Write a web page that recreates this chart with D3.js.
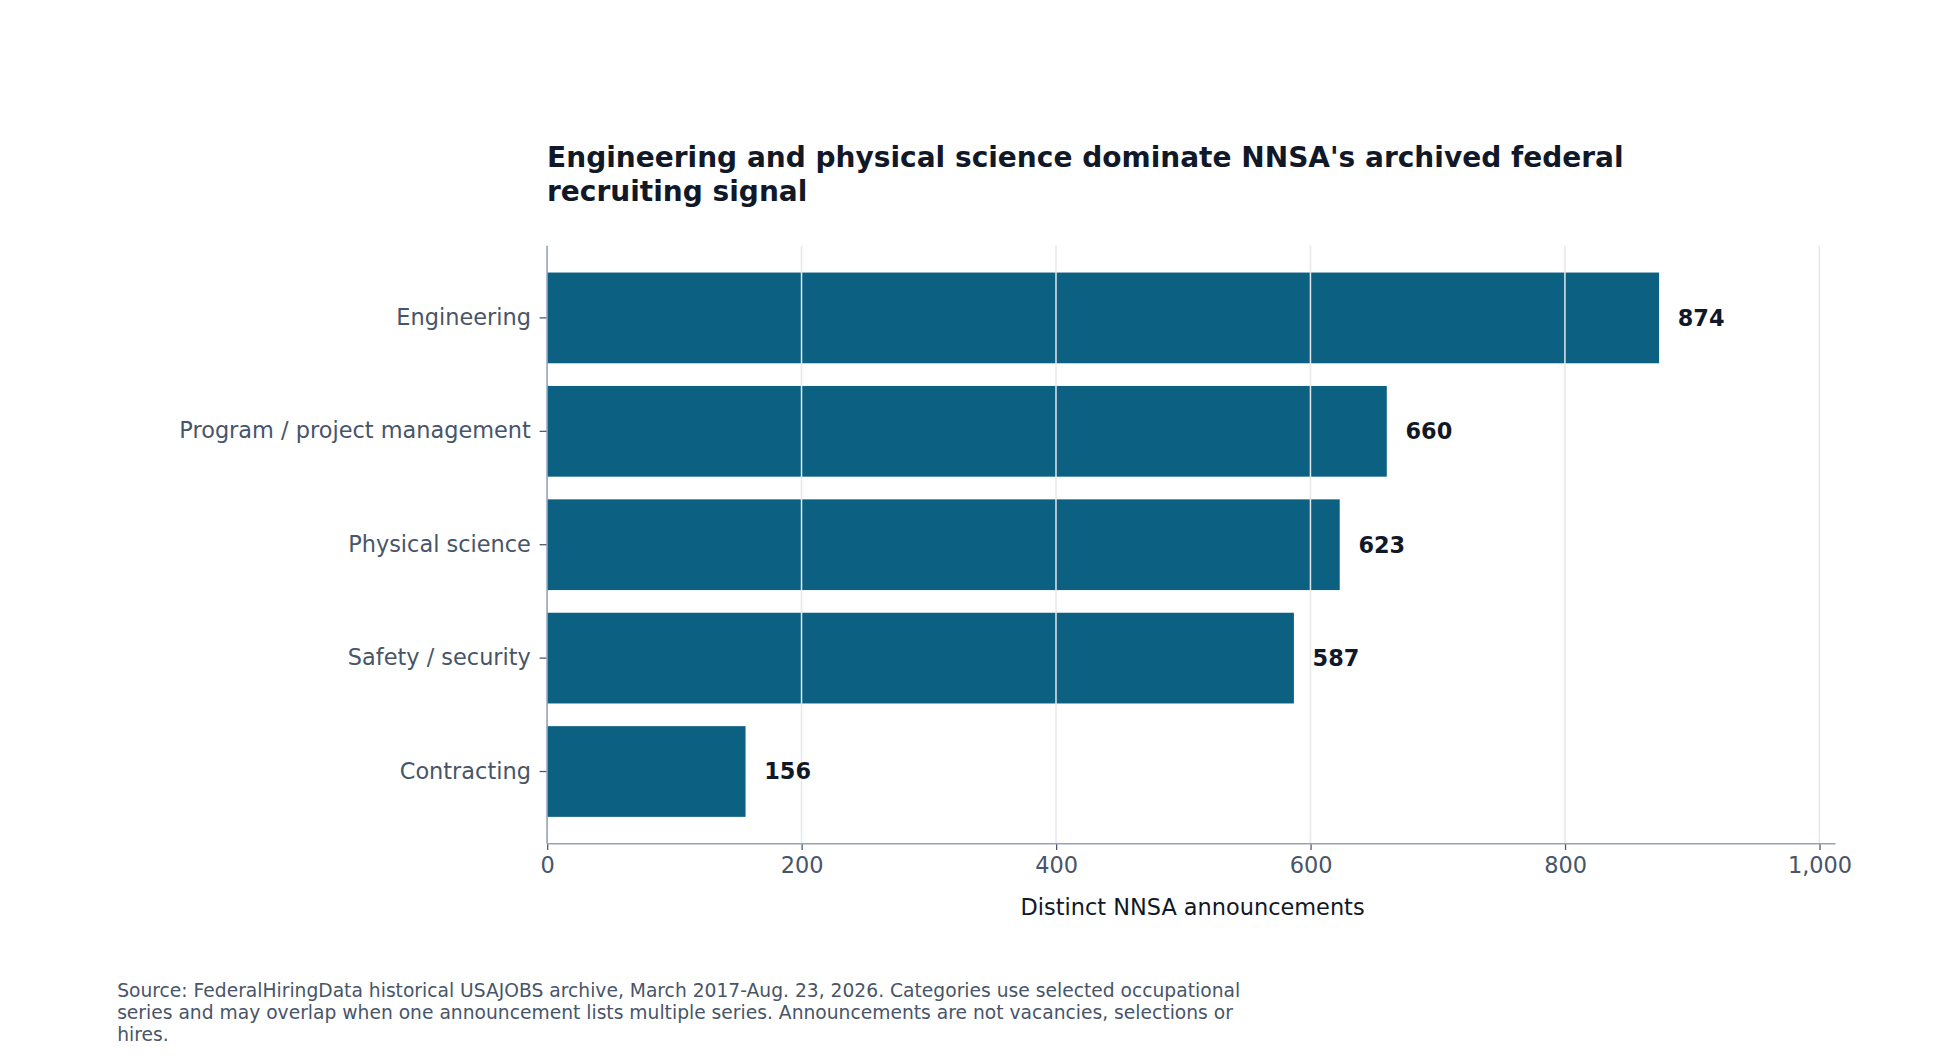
<!DOCTYPE html>
<html><head><meta charset="utf-8">
<script src="https://cdn.jsdelivr.net/npm/d3@7"></script>
<style>body{margin:0;background:#fff;font-family:"DejaVu Sans",sans-serif}</style>
</head><body><div id="chart"></div>
<script>
const categories = ["Engineering", "Program / project management", "Physical science", "Safety / security", "Contracting"];
const values = [874, 660, 623, 587, 156];
const xTicks = [0, 200, 400, 600, 800, 1000];

const W = 1560, H = 852;
const svg = d3.select("#chart").append("svg")
  .attr("width", 1944).attr("height", 1062)
  .attr("viewBox", `0 0 ${W} ${H}`);

const x = d3.scaleLinear().domain([0, 1000]).range([439, 1460]);
const y = d3.scaleBand().domain(categories).range([209.5, 664.5]).paddingInner(0.2).paddingOuter(0.1);
const plotTop = 197, plotBottom = 677;

svg.append("text").attr("x", 439).attr("y", 134).attr("font-size", 22.5).attr("font-weight", "bold")
  .attr("fill", "#111827").text("Engineering and physical science dominate NNSA's archived federal");
svg.append("text").attr("x", 439).attr("y", 161).attr("font-size", 22.5).attr("font-weight", "bold")
  .attr("fill", "#111827").text("recruiting signal");

svg.selectAll("rect.bar").data(values).enter().append("rect")
  .attr("x", x(0)).attr("y", (d, i) => y(categories[i]))
  .attr("width", d => x(d) - x(0)).attr("height", y.bandwidth())
  .attr("fill", "#0c6182");

svg.selectAll("line.grid").data(xTicks.slice(1)).enter().append("line")
  .attr("x1", d => x(d)).attr("x2", d => x(d)).attr("y1", plotTop).attr("y2", plotBottom)
  .attr("stroke", "#e5e7eb").attr("stroke-width", 1.2);

svg.selectAll("text.val").data(values).enter().append("text")
  .attr("x", d => x(d) + 15).attr("y", (d, i) => y(categories[i]) + y.bandwidth() / 2)
  .attr("dy", "0.35em").attr("font-size", 18).attr("font-weight", "bold").attr("fill", "#111827")
  .text(d => d);

const xa = svg.append("g").attr("transform", `translate(0,${plotBottom})`)
  .call(d3.axisBottom(x).tickValues(xTicks).tickSize(5).tickPadding(6));
xa.select(".domain").remove();
xa.append("line").attr("x1", 439).attr("x2", 1473).attr("stroke", "#94a3b8").attr("stroke-width", 1.3);
xa.selectAll(".tick line").attr("stroke", "#475569");
xa.selectAll("text").attr("font-size", 18).attr("fill", "#475569").attr("font-family", "DejaVu Sans");

const ya = svg.append("g").attr("transform", `translate(439,0)`)
  .call(d3.axisLeft(y).tickSize(6).tickPadding(7));
ya.select(".domain").remove();
ya.append("line").attr("y1", plotTop).attr("y2", plotBottom).attr("stroke", "#94a3b8").attr("stroke-width", 1.3);
ya.selectAll(".tick line").attr("stroke", "#475569");
ya.selectAll("text").attr("font-size", 18).attr("fill", "#475569").attr("font-family", "DejaVu Sans");

svg.append("text").attr("x", 957).attr("y", 734).attr("text-anchor", "middle")
  .attr("font-size", 18).attr("fill", "#111827").text("Distinct NNSA announcements");

const src = ["Source: FederalHiringData historical USAJOBS archive, March 2017-Aug. 23, 2026. Categories use selected occupational",
  "series and may overlap when one announcement lists multiple series. Announcements are not vacancies, selections or",
  "hires."];
svg.selectAll("text.src").data(src).enter().append("text")
  .attr("x", 94).attr("y", (d, i) => 800 + i * 17.5).attr("font-size", 15).attr("fill", "#475569").text(d => d);
</script></body></html>
